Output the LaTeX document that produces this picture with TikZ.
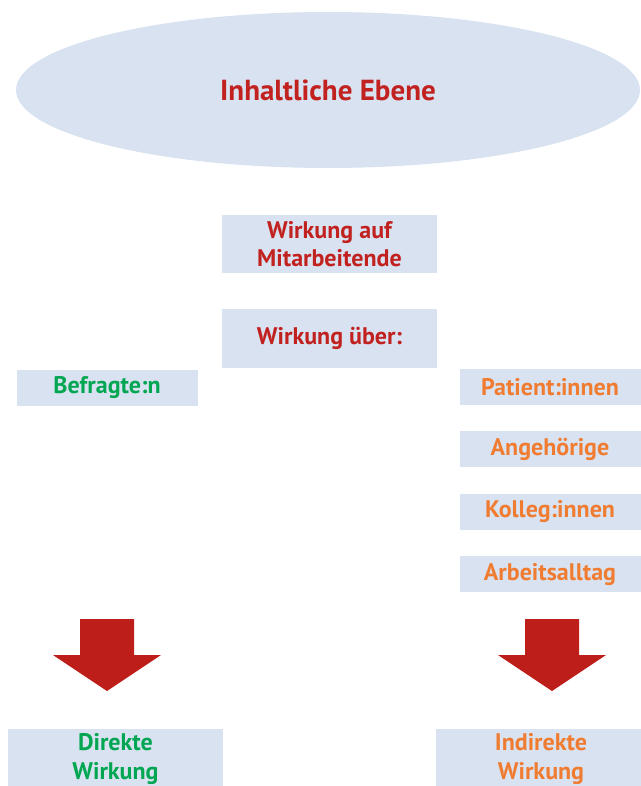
\documentclass[tikz,border=0pt]{standalone}
\usepackage{fontspec}
\setmainfont{PT Sans}
\usetikzlibrary{
    positioning,
    shapes.geometric
}
\definecolor{boxblue}{RGB}{217,226,240}
\definecolor{titlered}{RGB}{193,33,31}
\definecolor{directgreen}{RGB}{0,166,81}
\definecolor{indirectorange}{RGB}{240,124,50}
\definecolor{arrowred}{RGB}{190,30,26}
\tikzset{
    % Colors
    title color/.style={text=titlered},
    direct color/.style={text=directgreen},
    indirect color/.style={text=indirectorange},
    %
    % Boxes
    level/.style={ellipse,fill=boxblue,inner sep=0pt,minimum width=624pt,minimum height=156pt,
        font=\fontsize{29}{34}\selectfont\bfseries,title color},
    box/.style={rectangle,fill=boxblue,inner sep=0pt,align=center,
        font=\fontsize{24}{28.5}\selectfont\bfseries},
    wide box/.style={box,minimum width=215pt,minimum height=58pt},
    item box/.style={box,minimum width=181pt,minimum height=36pt},
    %
    % Arrows
    block arrow/.style={fill=arrowred}
}

\begin{document}
\begin{tikzpicture}[x=1pt,y=-1pt]
    \useasboundingbox (0,0) rectangle (640,786);
    \node[level] (ebene) at (328,90) {Inhaltliche Ebene};
    \node[wide box,title color] (mitarbeitende) at (329.5,244) {Wirkung auf\\Mitarbeitende};
    \node[wide box,title color,minimum height=59pt] (ueber) at (329.5,338.5) {Wirkung über:};
    % direct side
    \node[item box,direct color] (befragte) at (107,388) {Befragte:n};
    % indirect side
    \node[item box,indirect color] (patienten) at (550,387) {Patient:innen};
    \node[item box,indirect color,below=26pt of patienten] (angehoerige) {Angehörige};
    \node[item box,indirect color,below=26pt of angehoerige] (kollegen) {Kolleg:innen};
    \node[item box,indirect color,below=26pt of kollegen] (alltag) {Arbeitsalltag};
    % results
    \foreach \ax in {107,552}
        \fill[block arrow] (\ax-27,619) -- (\ax+27,619) -- (\ax+27,655) -- (\ax+54,655)
            -- (\ax,691) -- (\ax-54,655) -- (\ax-27,655) -- cycle;
    \node[box,direct color,minimum width=215pt,minimum height=60pt,anchor=north] (direkt) at (115.5,729) {Direkte\\Wirkung};
    \node[box,indirect color,minimum width=210pt,minimum height=60pt,anchor=north] (indirekt) at (541,729) {Indirekte\\Wirkung};
\end{tikzpicture}
\end{document}
